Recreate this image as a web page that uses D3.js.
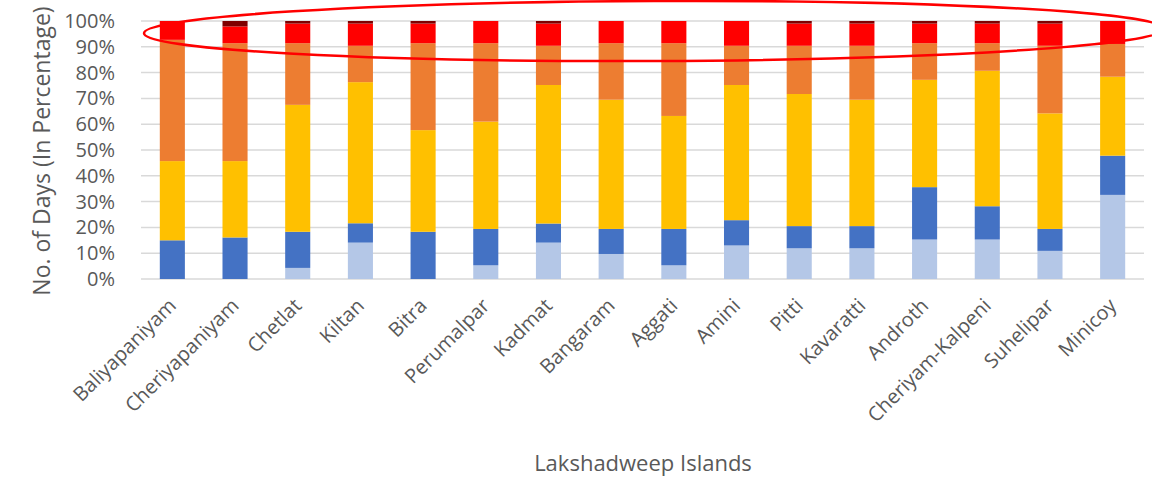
<!DOCTYPE html>
<html>
<head>
<meta charset="utf-8">
<script src="https://cdn.jsdelivr.net/npm/d3@7"></script>
<style>
  html, body { margin: 0; padding: 0; background: #fff; }
  svg { display: block; }
</style>
</head>
<body>
<div id="chart"></div>
<script>
// Islands (x categories)
const islands = [
  "Baliyapaniyam", "Cheriyapaniyam", "Chetlat", "Kiltan", "Bitra", "Perumalpar",
  "Kadmat", "Bangaram", "Aggati", "Amini", "Pitti", "Kavaratti", "Androth",
  "Cheriyam-Kalpeni", "Suhelipar", "Minicoy"
];

// Share of days (%) per class, bottom to top of each bar
const class1 = [0, 0, 4.3, 14.1, 0, 5.3, 14.1, 9.7, 5.3, 13.0, 11.9, 11.9, 15.3, 15.3, 10.9, 32.6];
const class2 = [15.0, 16.1, 14.0, 7.5, 18.3, 14.1, 7.4, 9.7, 14.1, 9.8, 8.6, 8.6, 20.3, 12.9, 8.5, 15.2];
const class3 = [30.7, 29.6, 49.2, 54.7, 39.4, 41.6, 53.7, 50.1, 43.8, 52.4, 51.2, 49.0, 41.6, 52.5, 44.8, 30.6];
const class4 = [47.0, 45.7, 23.9, 14.1, 33.7, 30.4, 15.2, 21.9, 28.2, 15.2, 18.7, 20.9, 14.2, 10.7, 26.2, 12.7];
const class5 = [7.3, 6.5, 7.6, 8.6, 7.6, 8.6, 8.6, 8.6, 8.6, 9.6, 8.6, 8.6, 7.6, 7.6, 8.6, 8.9];
const class6 = [0, 2.1, 1.0, 1.0, 1.0, 0, 1.0, 0, 0, 0, 1.0, 1.0, 1.0, 1.0, 1.0, 0];

const seriesKeys = ["class1", "class2", "class3", "class4", "class5", "class6"];
const seriesColors = ["#B4C7E7", "#4472C4", "#FFC000", "#ED7D31", "#FF0000", "#7F0000"];

const yTicks = [0, 0.1, 0.2, 0.3, 0.4, 0.5, 0.6, 0.7, 0.8, 0.9, 1];

// Table for d3.stack
const table = islands.map((name, i) => ({
  island: name,
  class1: class1[i], class2: class2[i], class3: class3[i],
  class4: class4[i], class5: class5[i], class6: class6[i]
}));

const width = 1152, height = 491;
const margin = { top: 21, right: 8, bottom: 212, left: 141 };
const textColor = "#595959";
const font = "'Open Sans', sans-serif";

const svg = d3.select("#chart")
  .append("svg")
  .attr("width", width)
  .attr("height", height);

const x = d3.scaleBand()
  .domain(islands)
  .range([margin.left, width - margin.right])
  .paddingInner(0.6)
  .paddingOuter(0.3);

const y = d3.scaleLinear()
  .domain([0, 1])
  .range([height - margin.bottom, margin.top]);

const stacked = d3.stack()
  .keys(seriesKeys)
  .offset(d3.stackOffsetExpand)(table);

// Gridlines
svg.append("g")
  .selectAll("line")
  .data(yTicks)
  .join("line")
  .attr("x1", margin.left)
  .attr("x2", width - margin.right)
  .attr("y1", (d) => y(d))
  .attr("y2", (d) => y(d))
  .attr("stroke", "#D9D9D9")
  .attr("stroke-width", 1.5);

// Y tick labels
svg.append("g")
  .attr("transform", `translate(${margin.left - 23},0)`)
  .call(d3.axisLeft(y).tickValues(yTicks).tickFormat(d3.format(".0%")).tickSize(0))
  .call((g) => g.select(".domain").remove())
  .selectAll("text")
  .attr("fill", textColor)
  .style("font-family", font)
  .style("font-size", "20px");

// Bars
svg.append("g")
  .selectAll("g")
  .data(stacked)
  .join("g")
  .attr("fill", (d, i) => seriesColors[i])
  .selectAll("rect")
  .data((d) => d)
  .join("rect")
  .attr("x", (d) => x(d.data.island))
  .attr("y", (d) => y(d[1]))
  .attr("width", x.bandwidth())
  .attr("height", (d) => y(d[0]) - y(d[1]));

// X labels, rotated
svg.append("g")
  .selectAll("text")
  .data(islands)
  .join("text")
  .attr("transform", (d) => `translate(${x(d) + x.bandwidth() / 2 + 5},307) rotate(-45)`)
  .attr("text-anchor", "end")
  .attr("fill", textColor)
  .style("font-family", font)
  .style("font-size", "20px")
  .text((d) => d);

// Axis titles
svg.append("text")
  .attr("x", 643)
  .attr("y", 471)
  .attr("text-anchor", "middle")
  .attr("fill", textColor)
  .style("font-family", font)
  .style("font-size", "22px")
  .text("Lakshadweep Islands");

svg.append("text")
  .attr("transform", "translate(50,151) rotate(-90)")
  .attr("text-anchor", "middle")
  .attr("fill", textColor)
  .style("font-family", font)
  .style("font-size", "23px")
  .text("No. of Days (In Percentage)");

// Red highlight ellipse around the top of the bars
svg.append("ellipse")
  .attr("cx", 654)
  .attr("cy", 31)
  .attr("rx", 510)
  .attr("ry", 30)
  .attr("transform", "rotate(-0.25,654,31)")
  .attr("fill", "none")
  .attr("stroke", "#FF0000")
  .attr("stroke-width", 2.5);
</script>
</body>
</html>
